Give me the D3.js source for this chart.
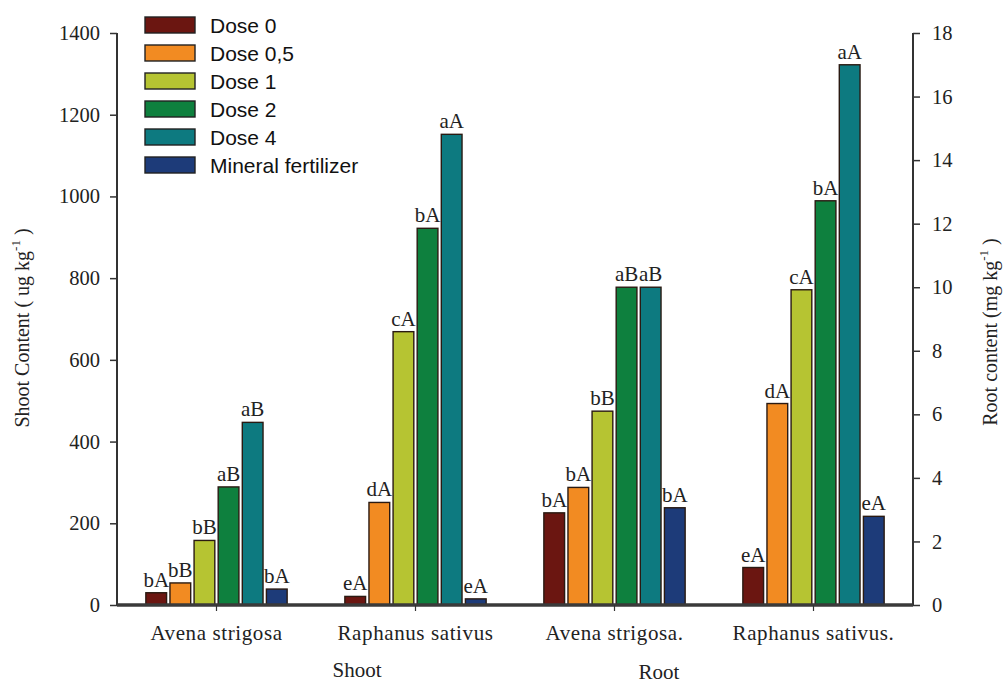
<!DOCTYPE html>
<html>
<head>
<meta charset="utf-8">
<script src="https://cdn.jsdelivr.net/npm/d3@7/dist/d3.min.js"></script>
<style>
  html, body { margin: 0; padding: 0; background: #fff; }
  svg { display: block; }
  .serif { font-family: "Liberation Serif", "Times New Roman", serif; fill: #222; }
  .sans { font-family: "Liberation Sans", Arial, sans-serif; fill: #111; }
</style>
</head>
<body>
<svg id="chart" width="1004" height="683"></svg>
<script>
// Categories along the x axis
const categories = ["Avena strigosa", "Raphanus sativus", "Avena strigosa.", "Raphanus sativus."];
// Which axis each category is measured on
const categoryAxis = ["shoot", "shoot", "root", "root"];
// Treatments (series)
const series = ["Dose 0", "Dose 0,5", "Dose 1", "Dose 2", "Dose 4", "Mineral fertilizer"];
const seriesColors = ["#6b1611", "#f28b22", "#b6c432", "#0e803e", "#0d7a80", "#1d3b79"];

// Shoot content (ug kg-1), left axis
const shootAvena    = [30, 54, 158, 289, 447, 39];
const shootRaphanus = [21, 251, 669, 922, 1152, 15];
// Root content (mg kg-1), right axis
const rootAvena     = [2.9, 3.7, 6.1, 10.0, 10.0, 3.06];
const rootRaphanus  = [1.18, 6.34, 9.92, 12.72, 17.0, 2.79];

// Significance letters above the bars
const lettersShootAvena    = ["bA", "bB", "bB", "aB", "aB", "bA"];
const lettersShootRaphanus = ["eA", "dA", "cA", "bA", "aA", "eA"];
const lettersRootAvena     = ["bA", "bA", "bB", "aB", "aB", "bA"];
const lettersRootRaphanus  = ["eA", "dA", "cA", "bA", "aA", "eA"];

const leftTicks  = [0, 200, 400, 600, 800, 1000, 1200, 1400];
const rightTicks = [0, 2, 4, 6, 8, 10, 12, 14, 16, 18];

const values  = [shootAvena, shootRaphanus, rootAvena, rootRaphanus];
const letters = [lettersShootAvena, lettersShootRaphanus, lettersRootAvena, lettersRootRaphanus];

const SERIF = '"Liberation Serif", "Times New Roman", serif';
const SANS = '"Liberation Sans", Arial, sans-serif';

const svg = d3.select("#chart");
const plot = { left: 117, right: 913, top: 33, bottom: 605 };

const yLeft  = d3.scaleLinear().domain([0, 1400]).range([plot.bottom, plot.top]);
const yRight = d3.scaleLinear().domain([0, 18]).range([plot.bottom, plot.top]);

const x0 = d3.scaleBand().domain(categories).range([plot.left, plot.right])
  .paddingInner(0.29).paddingOuter(0.145);
const x1 = d3.scaleBand().domain(series).range([0, x0.bandwidth()]).paddingInner(0.14);
const color = d3.scaleOrdinal().domain(series).range(seriesColors);

// Left axis
const gl = svg.append("g").attr("transform", `translate(${plot.left},0)`)
  .call(d3.axisLeft(yLeft).tickValues(leftTicks).tickSize(7).tickPadding(10).tickFormat(d3.format("d")));
// Right axis
const gr = svg.append("g").attr("transform", `translate(${plot.right},0)`)
  .call(d3.axisRight(yRight).tickValues(rightTicks).tickSize(7).tickPadding(12).tickFormat(d3.format("d")));

[gl, gr].forEach(g => {
  g.attr("font-family", SERIF);
  g.select(".domain").attr("stroke", "#333").attr("stroke-width", 2);
  g.selectAll(".tick line").attr("stroke", "#333").attr("stroke-width", 1.5);
  g.selectAll(".tick text").style("font-family", SERIF).style("font-size", "20.5px").attr("fill", "#222");
});
// Plain vertical axis lines
gl.select(".domain").attr("d", `M0,${plot.bottom}V${plot.top}`);
gr.select(".domain").attr("d", `M0,${plot.bottom}V${plot.top}`);

// Bars
const groups = svg.append("g").selectAll("g").data(categories).join("g")
  .attr("transform", d => `translate(${x0(d)},0)`);

groups.each(function(cat, ci) {
  const y = categoryAxis[ci] === "shoot" ? yLeft : yRight;
  const g = d3.select(this);
  const rows = series.map((s, si) => ({ s, v: values[ci][si], l: letters[ci][si] }));
  g.selectAll("rect").data(rows).join("rect")
    .attr("x", d => x1(d.s))
    .attr("y", d => y(d.v))
    .attr("width", x1.bandwidth())
    .attr("height", d => y(0) - y(d.v))
    .attr("fill", d => color(d.s))
    .attr("stroke", "#2a1a12")
    .attr("stroke-width", 1.4);
  g.selectAll("text").data(rows).join("text")
    .attr("x", d => x1(d.s) + x1.bandwidth() / 2)
    .attr("y", d => y(d.v) - 6)
    .attr("text-anchor", "middle")
    .style("font-family", SERIF).style("font-size", "21px").attr("fill", "#222")
    .text(d => d.l);
});

// Bottom axis
const gb = svg.append("g").attr("transform", `translate(0,${plot.bottom})`)
  .call(d3.axisBottom(x0).tickSize(6).tickPadding(14));
gb.select(".domain").attr("d", `M${plot.left},0H${plot.right}`).attr("stroke", "#3a3a3a").attr("stroke-width", 3.5);
gb.selectAll(".tick line").attr("stroke", "#333").attr("stroke-width", 1.2);
gb.selectAll(".tick text").style("font-family", SERIF).style("font-size", "21px")
  .style("letter-spacing", "0.6px").attr("fill", "#222");

// Group labels
svg.append("text").attr("x", 357).attr("y", 677)
  .attr("text-anchor", "middle").style("font-family", SERIF).style("font-size", "21px").attr("fill", "#222").text("Shoot");
svg.append("text").attr("x", 659).attr("y", 679)
  .attr("text-anchor", "middle").style("font-family", SERIF).style("font-size", "21px").attr("fill", "#222").text("Root");

// Axis titles
const lt = svg.append("text")
  .attr("transform", "translate(29,328) rotate(-90)")
  .attr("text-anchor", "middle").style("font-family", SERIF).style("font-size", "20px").attr("fill", "#222");
lt.append("tspan").text("Shoot Content ( ug kg");
lt.append("tspan").attr("dy", -9).style("font-size", "13px").text("-1");
lt.append("tspan").attr("dy", 9).text(" )");

const rt = svg.append("text")
  .attr("transform", "translate(997,332) rotate(-90)")
  .attr("text-anchor", "middle").style("font-family", SERIF).style("font-size", "20px").attr("fill", "#222");
rt.append("tspan").text("Root content (mg kg");
rt.append("tspan").attr("dy", -9).style("font-size", "13px").text("-1");
rt.append("tspan").attr("dy", 9).text(" )");

// Legend
const legend = svg.append("g").attr("transform", "translate(145,17)");
const li = legend.selectAll("g").data(series).join("g")
  .attr("transform", (d, i) => `translate(0,${i * 28})`);
li.append("rect").attr("width", 50).attr("height", 16)
  .attr("fill", d => color(d)).attr("stroke", "#222").attr("stroke-width", 1.4);
li.append("text").attr("x", 65).attr("y", 15.5)
  .style("font-family", SANS).style("font-size", "21px").attr("fill", "#111").text(d => d);
</script>
</body>
</html>
